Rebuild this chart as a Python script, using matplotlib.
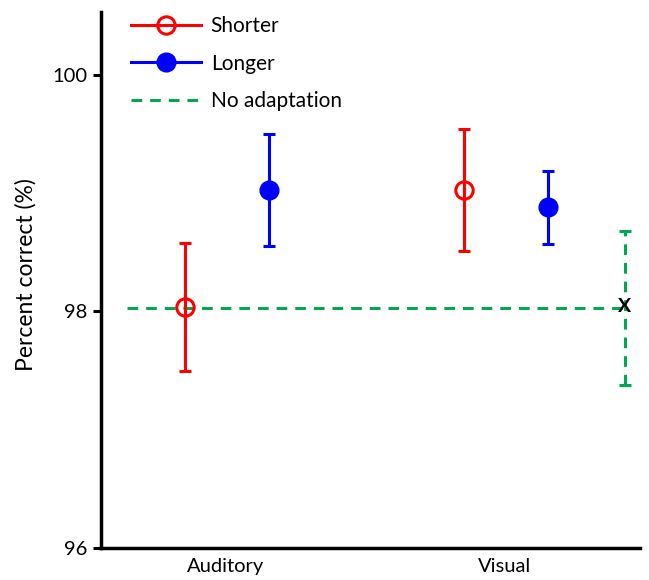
import numpy as np
import matplotlib.pyplot as plt
from matplotlib.lines import Line2D

plt.rcParams['font.family'] = ['Lato', 'DejaVu Sans']

# conditions and group means with error-bar limits
conditions = ['Auditory', 'Visual']
shorter_mean = [98.04, 99.03]
shorter_hi = [98.58, 99.54]
shorter_lo = [97.50, 98.51]
longer_mean = [99.03, 98.88]
longer_hi = [99.50, 99.19]
longer_lo = [98.55, 98.57]
noadapt_mean = 98.03
noadapt_hi = 98.68
noadapt_lo = 97.38

red = '#ff0000'
blue = '#0000ff'
green = '#00a850'

fig = plt.figure(figsize=(6.49, 5.8), dpi=100)
ax = fig.add_axes([0.1556, 0.0552, 0.8304, 0.924])

x = np.arange(1, len(conditions) + 1)
off_s = 0.146
off_l = 0.155

sm = np.array(shorter_mean)
lm = np.array(longer_mean)
# hollow circles, bar line shows through
ax.errorbar(x - off_s, sm, yerr=[sm - shorter_lo, np.array(shorter_hi) - sm],
            fmt='o', color=red, mfc='none', mec=red, mew=2.2, ms=12.5,
            elinewidth=2.2, capsize=4.3, capthick=2.2, zorder=3)
ax.errorbar(x + off_l, lm, yerr=[lm - longer_lo, np.array(longer_hi) - lm],
            fmt='o', color=blue, ms=13.5, elinewidth=2.2, capsize=4.3,
            capthick=2.2, zorder=3)

# baseline without adaptation
ax.plot([0.647, 2.43], [noadapt_mean, noadapt_mean], color=green, lw=2.2,
        dashes=(3.5, 2.6), zorder=2)
eb = ax.errorbar([2.43], [noadapt_mean],
                 yerr=[[noadapt_mean - noadapt_lo], [noadapt_hi - noadapt_mean]],
                 fmt='none', ecolor=green, elinewidth=2.2, capsize=4.3,
                 capthick=2.2, zorder=2)
eb[-1][0].set_linestyle((0, (3.5, 2.6)))
ax.text(2.43, noadapt_mean + 0.01, 'X', fontsize=14, fontweight='bold',
        ha='center', va='center', zorder=5)

ax.set_xlim(0.552, 2.484)
ax.set_ylim(96, 100.53)
ax.set_yticks([96, 98, 100])
ax.set_xticks(x)
ax.set_xticklabels(conditions, fontsize=14.5)
ax.tick_params(axis='x', length=0, pad=7)
ax.tick_params(axis='y', length=6, width=2.2, labelsize=14.5, direction='out')
for s in ['top', 'right']:
    ax.spines[s].set_visible(False)
for s in ['left', 'bottom']:
    ax.spines[s].set_linewidth(2.5)
ax.set_ylabel('Percent correct (%)', fontsize=16.5)
ax.yaxis.set_label_coords(-0.119, 0.51)

handles = [
    Line2D([], [], color=red, lw=2.2, marker='o', ms=12.5, mfc='none',
           mec=red, mew=2.2),
    Line2D([], [], color=blue, lw=2.2, marker='o', ms=13.5),
    Line2D([], [], color=green, lw=2.2, dashes=(3.5, 2.6)),
]
ax.legend(handles, ['Shorter', 'Longer', 'No adaptation'], loc='upper left',
          bbox_to_anchor=(0.02, 1.028), frameon=False, fontsize=15,
          handlelength=3.4, handletextpad=0.45, labelspacing=0.85)

fig.savefig('out.png', dpi=100)
